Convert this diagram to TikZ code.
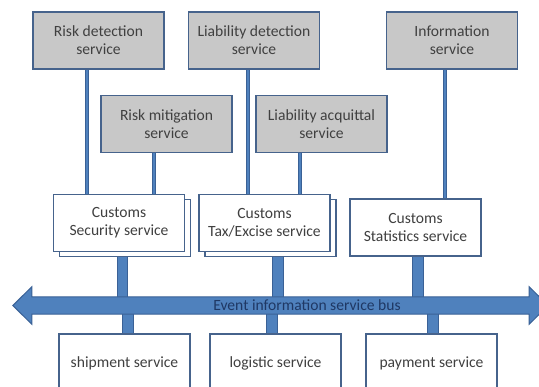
\documentclass[tikz,border=0pt]{standalone}
\usepackage{fontspec}
\setmainfont{Carlito}
\usetikzlibrary{shadows}
\definecolor{boxline}{HTML}{46638C}
\definecolor{boxgray}{HTML}{C8C8C8}
\definecolor{txt}{HTML}{404040}
\definecolor{conn}{HTML}{4F81BD}
\definecolor{connline}{HTML}{3A6196}
\definecolor{bustxt}{HTML}{1F3864}
\pgfdeclarelayer{back}
\pgfdeclarelayer{bg}
\pgfdeclarelayer{mid}
\pgfsetlayers{back,bg,mid,main}
\begin{document}
\begin{tikzpicture}[x=1pt,y=-1pt,
  box/.style={draw=boxline, line width=1.4pt, align=center, text=txt,
    font=\fontsize{15.6}{18}\selectfont, inner sep=0pt,
    minimum width=131pt, minimum height=57pt},
  gbox/.style={box, fill=boxgray},
  wbox/.style={box, fill=white},
  sbox/.style={wbox, copy shadow={shadow xshift=6pt, shadow yshift=-5pt}},
  thin/.style={draw=connline, line width=0.7pt, double=conn, double distance=2.8pt},
  thick/.style={draw=connline, line width=0.9pt, double=conn, double distance=9.4pt},
  busarrow/.style={fill=conn, draw=connline, line width=1pt, line join=miter}]
\useasboundingbox (0,0) rectangle (539,387);
\begin{pgfonlayer}{back}
\fill[white] (0,0) rectangle (539,387);
\end{pgfonlayer}

% top services
\node[gbox] (rd) at (98.5,40.5) {Risk detection\\service};
\node[gbox] (ld) at (254,40.5) {Liability detection\\service};
\node[gbox] (info) at (452,40.5) {Information\\service};
\node[gbox] (rm) at (166.5,124) {Risk mitigation\\service};
\node[gbox] (la) at (321.5,124) {Liability acquittal\\service};

% customs services
\node[sbox] (cs) at (119,223) {Customs\\Security service};
\node[sbox] (ct) at (264.5,223) {Customs\\Tax/Excise service};
\node[wbox] (cst) at (415.5,227.5) {Customs\\Statistics service};

% bus
\node[font=\fontsize{15.6}{18}\selectfont, text=bustxt, inner sep=0pt,
  minimum width=497pt, minimum height=17pt] (bus) at (280.5,305.5)
  {\hspace*{53pt}Event information service bus};

% bottom services
\node[wbox, minimum height=58pt] (ship) at (124.5,363) {shipment service};
\node[wbox, minimum height=58pt] (log) at (275.5,363) {logistic service};
\node[wbox, minimum height=58pt] (pay) at (431.5,363) {payment service};

\begin{pgfonlayer}{mid}
\path[busarrow] (bus.north west) -- (bus.north east)
  -- ([yshift=10pt]bus.north east) -- ([xshift=19pt]bus.east)
  -- ([yshift=-10pt]bus.south east) -- (bus.south east)
  -- (bus.south west) -- ([yshift=-10pt]bus.south west)
  -- ([xshift=-19pt]bus.west) -- ([yshift=10pt]bus.north west) -- cycle;
\end{pgfonlayer}

\begin{pgfonlayer}{bg}
\draw[thin] ([xshift=-11.5pt]rd.south) -- ([xshift=-11.5pt]rd.south |- cs.north);
\draw[thin] ([xshift=-12.5pt]rm.south) -- ([xshift=-12.5pt]rm.south |- cs.north);
\draw[thin] ([xshift=-6pt]ld.south) -- ([xshift=-6pt]ld.south |- ct.north);
\draw[thin] ([xshift=-21.5pt]la.south) -- ([xshift=-21.5pt]la.south |- ct.north);
\draw[thin] ([xshift=-7pt]info.south) -- ([xshift=-7pt]info.south |- cst.north);
\draw[thick] ([xshift=3.5pt]cs.south) -- ([xshift=3.5pt]cs.south |- bus.center);
\draw[thick] ([xshift=13.5pt]ct.south) -- ([xshift=13.5pt]ct.south |- bus.center);
\draw[thick] ([xshift=2.5pt]cst.south) -- ([xshift=2.5pt]cst.south |- bus.center);
\draw[thick] ([xshift=3.5pt]ship.north) -- ([xshift=3.5pt]ship.north |- bus.center);
\draw[thick] ([xshift=-3.5pt]log.north) -- ([xshift=-3.5pt]log.north |- bus.center);
\draw[thick] ([xshift=1.5pt]pay.north) -- ([xshift=1.5pt]pay.north |- bus.center);
\end{pgfonlayer}
\end{tikzpicture}
\end{document}
